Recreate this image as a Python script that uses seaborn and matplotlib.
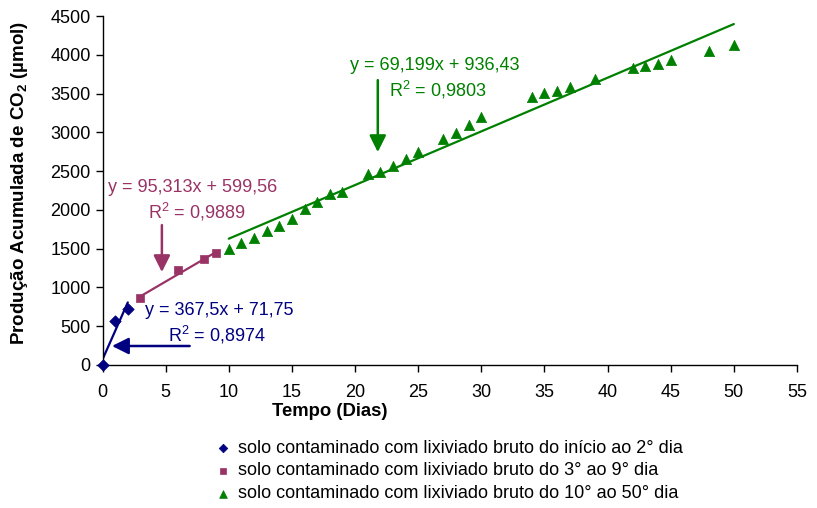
import numpy as np
import pandas as pd
import matplotlib
matplotlib.use("Agg")
import matplotlib.pyplot as plt
import seaborn as sns

# --- DATA ---
DIAS_A = [0, 1, 2]
CO2_A = [0, 572, 725]

DIAS_B = [3, 6, 8, 9]
CO2_B = [870, 1228, 1365, 1450]

DIAS_C = [10, 11, 12, 13, 14, 15, 16, 17, 18, 19, 21, 22, 23, 24, 25,
          27, 28, 29, 30, 34, 35, 36, 37, 39, 42, 43, 44, 45, 48, 50]
CO2_C = [1499, 1572, 1637, 1722, 1787, 1882, 2011, 2097, 2209, 2226, 2459, 2485, 2564, 2655, 2745,
         2916, 2986, 3101, 3192, 3458, 3501, 3531, 3586, 3694, 3827, 3853, 3879, 3939, 4050, 4120]

# trend line coefficients (slope, intercept) as shown on the chart
FIT_A = (367.5, 71.75)
FIT_B = (95.313, 599.56)
FIT_C = (69.199, 936.43)

LABELS = [
    "solo contaminado com lixiviado bruto do início ao 2° dia",
    "solo contaminado com lixiviado bruto do 3° ao 9° dia",
    "solo contaminado com lixiviado bruto do 10° ao 50° dia",
]
EQ_TEXTS = [
    ("y = 367,5x + 71,75", "R$^2$ = 0,8974"),
    ("y = 95,313x + 599,56", "R$^2$ = 0,9889"),
    ("y = 69,199x + 936,43", "R$^2$ = 0,9803"),
]

X_TICKS = list(range(0, 56, 5))
Y_TICKS = list(range(0, 4501, 500))

BLUE = "#000080"
PLUM = "#993366"
GREEN = "#008000"

sns.set_style("white")
plt.rcParams["font.family"] = ["Liberation Sans", "DejaVu Sans"]
plt.rcParams["mathtext.fontset"] = "custom"
plt.rcParams["mathtext.rm"] = "Liberation Sans"
plt.rcParams["mathtext.bf"] = "Liberation Sans:bold"
plt.rcParams["text.color"] = "black"
plt.rcParams["xtick.color"] = "black"
plt.rcParams["ytick.color"] = "black"

FS = 13

fig = plt.figure(figsize=(8.17, 5.08), dpi=100)
ax = fig.add_axes([0.1255, 0.2815, 0.850, 0.687])

series = [
    (DIAS_A, CO2_A, FIT_A, BLUE, "D", 34),
    (DIAS_B, CO2_B, FIT_B, PLUM, "s", 36),
    (DIAS_C, CO2_C, FIT_C, GREEN, "^", 55),
]

for (xs, ys, fit, color, marker, size), label in zip(series, LABELS):
    df = pd.DataFrame({"dia": xs, "co2": ys})
    # trend line over the data range
    xl = np.array([min(xs), max(xs)], dtype=float)
    sns.lineplot(x=xl, y=fit[0] * xl + fit[1], ax=ax, color=color, lw=1.6, legend=False)
    sns.scatterplot(data=df, x="dia", y="co2", ax=ax, color=color, marker=marker,
                    s=size, edgecolor=color, linewidth=0.5, label=label, zorder=3,
                    clip_on=False)

ax.set_xlim(0, 55)
ax.set_ylim(0, 4500)
ax.set_xticks(X_TICKS)
ax.set_yticks(Y_TICKS)
ax.tick_params(axis="both", labelsize=FS, direction="out", length=5, width=1,
               color="black", labelcolor="black", left=True, bottom=True)
ax.tick_params(axis="x", pad=9)
for s in ["top", "right"]:
    ax.spines[s].set_visible(False)
for s in ["left", "bottom"]:
    ax.spines[s].set_color("black")
    ax.spines[s].set_linewidth(1)
ax.set_xlabel("")
ax.set_ylabel("")

fig.text(0.403, 0.19, "Tempo (Dias)", ha="center", va="center", fontsize=FS + 0.3, fontweight="bold")
fig.text(0.024, 0.64, "Produção Acumulada de CO$_\\mathbf{2}$ (µmol)", rotation=90,
         ha="center", va="center", fontsize=FS + 0.5, fontweight="bold")

# equations and arrows
arrow_kw = dict(arrowstyle="-|>,head_length=1.0,head_width=0.5", lw=1.8, shrinkA=0, shrinkB=0)

ax.text(3.35, 709, EQ_TEXTS[0][0], color=BLUE, fontsize=FS, ha="left", va="center")
ax.text(5.2, 390, EQ_TEXTS[0][1], color=BLUE, fontsize=FS, ha="left", va="center")
ax.annotate("", xy=(0.75, 245), xytext=(6.9, 245),
            arrowprops=dict(color=BLUE, **arrow_kw))

ax.text(0.43, 2294, EQ_TEXTS[1][0], color=PLUM, fontsize=FS, ha="left", va="center")
ax.text(3.6, 1972, EQ_TEXTS[1][1], color=PLUM, fontsize=FS, ha="left", va="center")
ax.annotate("", xy=(4.7, 1198), xytext=(4.7, 1804),
            arrowprops=dict(color=PLUM, **arrow_kw))

ax.text(19.6, 3866, EQ_TEXTS[2][0], color=GREEN, fontsize=FS, ha="left", va="center")
ax.text(22.7, 3544, EQ_TEXTS[2][1], color=GREEN, fontsize=FS, ha="left", va="center")
ax.annotate("", xy=(21.8, 2745), xytext=(21.8, 3673),
            arrowprops=dict(color=GREEN, **arrow_kw))

leg = ax.legend(loc="upper left", bbox_to_anchor=(0.258, 0.149), bbox_transform=fig.transFigure,
                frameon=False, fontsize=FS, handlelength=0.6, handletextpad=0.5,
                labelspacing=0.33, borderaxespad=0, markerscale=0.75)

fig.savefig("out.png", dpi=100)
